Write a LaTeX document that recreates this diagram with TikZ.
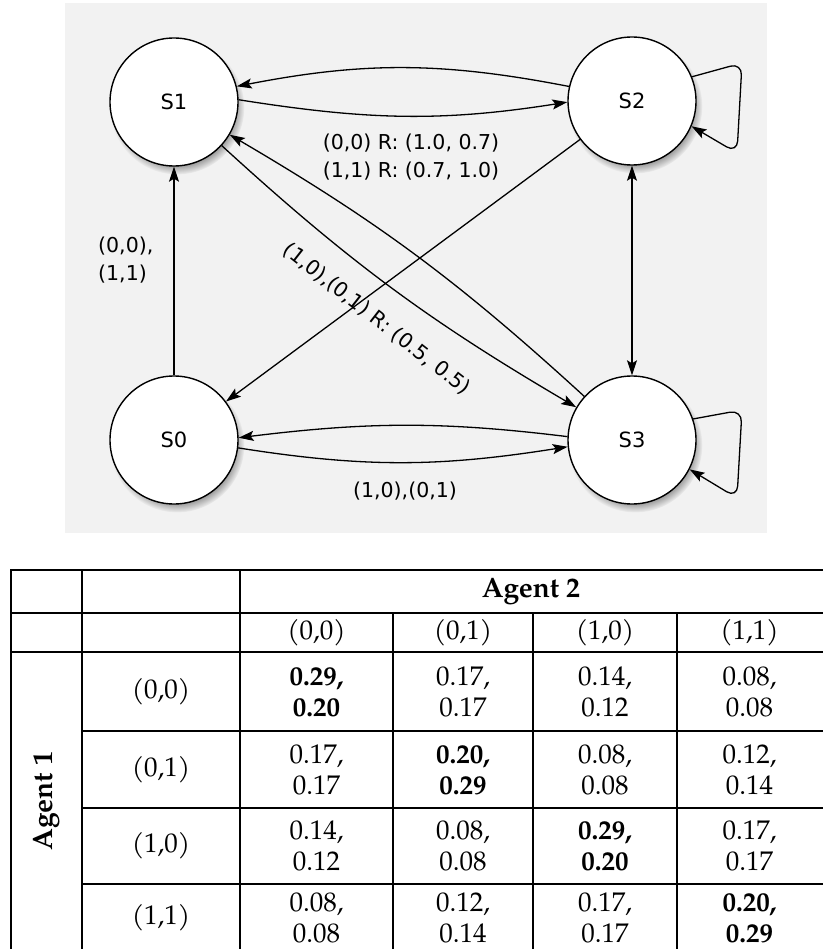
\documentclass[tikz,border=0pt]{standalone}
\usepackage{fontspec}
\usetikzlibrary{arrows.meta,shadows}
\newfontfamily\diagfont{DejaVu Sans}
\newfontfamily\palfont{TeX Gyre Pagella}
\tikzset{
  statenode/.style={circle, draw=black, line width=1.4pt, fill=white, minimum size=128pt, inner sep=0pt,
    font=\diagfont\fontsize{21}{25}\selectfont,
    circular drop shadow={shadow xshift=3pt, shadow yshift=-5pt, shadow scale=1.05, opacity=.8}},
  tip/.tip={Stealth[length=15pt,width=10pt,inset=3pt]},
  edgeline/.style={line width=1.3pt, -tip},
  lbl/.style={font=\diagfont\fontsize{20.5}{28}\selectfont, inner sep=0pt, align=center},
  tbl/.style={font=\palfont\fontsize{27}{31}\selectfont, align=center, inner sep=0pt},
  hdr/.style={font=\palfont\bfseries\fontsize{28}{32}\selectfont, inner sep=0pt},
  gridline/.style={line width=2.6pt, line cap=rect}
}
\begin{document}
\begin{tikzpicture}[x=1pt,y=1pt]
\useasboundingbox (0,0) rectangle (822,-949);
% diagram background
\fill[black!5] (65,-3) rectangle (767,-533);
% states
\node[statenode] (S1) at (174,-102) {S1};
\node[statenode] (S2) at (632,-101) {S2};
\node[statenode] (S0) at (174,-440) {S0};
\node[statenode] (S3) at (632,-440) {S3};
% transitions
\draw[edgeline] (S2.167) to[out=169,in=11] (S1.14);
\draw[edgeline] (S1.2) to[out=-9,in=189] (S2.181);
\draw[edgeline] (S0) -- (S1);
\draw[edgeline] (S2) -- (S0);
\draw[edgeline] (S3) to[bend right=6] (S1);
\draw[edgeline] (S1) to[bend right=6] (S3);
\draw[line width=1.3pt, tip-tip] (S2) -- (S3);
\draw[edgeline] (S3.177) to[out=173,in=7] (S0.2);
\draw[edgeline] (S0.-7) to[out=-9,in=189] (S3.186);
\draw[edgeline, rounded corners=12pt] (S2.22) -- ([shift={(110,38)}]S2.center) -- ([shift={(105,-52)}]S2.center) -- (S2.-23);
\draw[edgeline, rounded corners=12pt] (S3.19) -- ([shift={(110,30)}]S3.center) -- ([shift={(105,-58)}]S3.center) -- (S3.-27);
% labels
\node[lbl] (L12) at (411,-157) {(0,0) R: (1.0, 0.7)\\(1,1) R: (0.7, 1.0)};
\node[lbl, align=left, anchor=west] (L01) at (98,-260) {(0,0),\\(1,1)};
\node[lbl, rotate=-38] (Ldiag) at (377,-319) {(1,0),(0,1) R: (0.5, 0.5)};
\node[lbl] (L03) at (405,-491) {(1,0),(0,1)};
% table grid
\draw[gridline] (11,-570) -- (822,-570);
\draw[gridline] (11,-613) -- (822,-613);
\draw[gridline] (11,-652) -- (822,-652);
\foreach \yy in {731,808,884} {\draw[gridline] (82,-\yy) -- (822,-\yy);}
\foreach \xx in {11,82,240} {\draw[gridline] (\xx,-570) -- (\xx,-949);}
\foreach \xx in {393,533,677} {\draw[gridline] (\xx,-613) -- (\xx,-949);}
% headers
\node[hdr] (A2) at (531,-592) {Agent 2};
\node[hdr, rotate=90] (A1) at (47,-801) {Agent 1};
\node[tbl] (h1) at (316.5,-633) {(0,0)};
\node[tbl] (h2) at (463,-633) {(0,1)};
\node[tbl] (h3) at (605,-633) {(1,0)};
\node[tbl] (h4) at (749.5,-633) {(1,1)};
\node[tbl] (r1) at (161,-692) {(0,0)};
\node[tbl] (r2) at (161,-770) {(0,1)};
\node[tbl] (r3) at (161,-846) {(1,0)};
\node[tbl] (r4) at (161,-918) {(1,1)};
% row 1
\node[tbl] (c11) at (316.5,-692) {\bfseries 0.29,\\\bfseries 0.20};
\node[tbl] (c12) at (463,-692) {0.17,\\0.17};
\node[tbl] (c13) at (605,-692) {0.14,\\0.12};
\node[tbl] (c14) at (749.5,-692) {0.08,\\0.08};
% row 2
\node[tbl] (c21) at (316.5,-770) {0.17,\\0.17};
\node[tbl] (c22) at (463,-770) {\bfseries 0.20,\\\bfseries 0.29};
\node[tbl] (c23) at (605,-770) {0.08,\\0.08};
\node[tbl] (c24) at (749.5,-770) {0.12,\\0.14};
% row 3
\node[tbl] (c31) at (316.5,-846) {0.14,\\0.12};
\node[tbl] (c32) at (463,-846) {0.08,\\0.08};
\node[tbl] (c33) at (605,-846) {\bfseries 0.29,\\\bfseries 0.20};
\node[tbl] (c34) at (749.5,-846) {0.17,\\0.17};
% row 4
\node[tbl] (c41) at (316.5,-918) {0.08,\\0.08};
\node[tbl] (c42) at (463,-918) {0.12,\\0.14};
\node[tbl] (c43) at (605,-918) {0.17,\\0.17};
\node[tbl] (c44) at (749.5,-918) {\bfseries 0.20,\\\bfseries 0.29};
\end{tikzpicture}
\end{document}
